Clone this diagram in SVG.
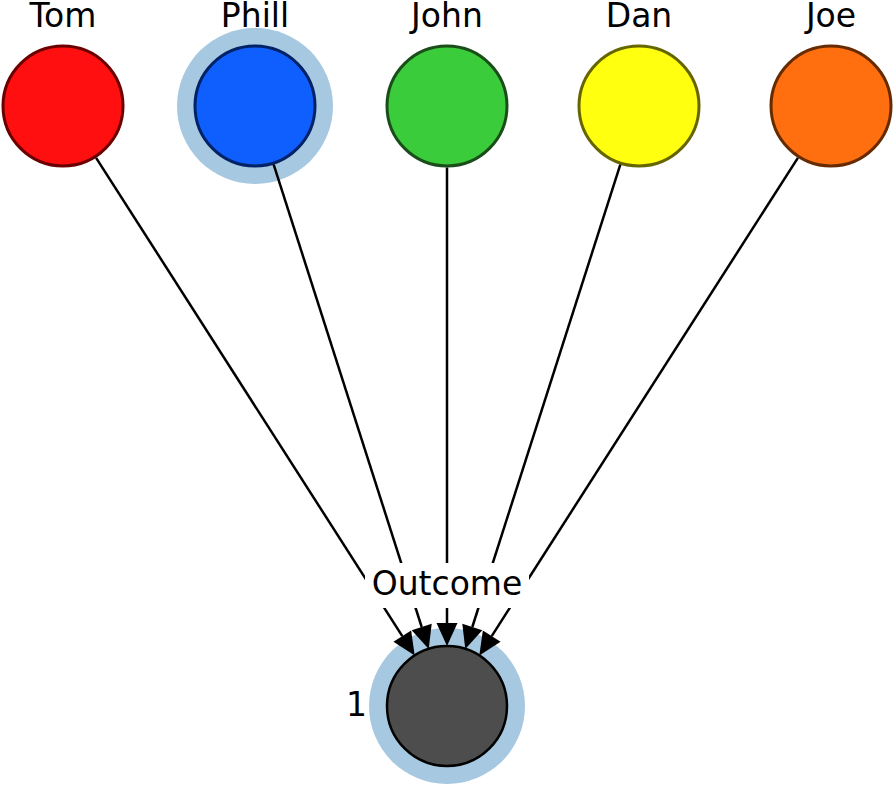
<svg xmlns="http://www.w3.org/2000/svg" width="894" height="785" viewBox="0 0 894 785">
<style>
text{font-family:"DejaVu Sans",sans-serif;font-size:33px;fill:#000}
.n{stroke-width:3}
.halo{fill:#a6c8e0}
.e{stroke:#000;stroke-width:2.5;fill:none}
</style>
<defs>
<marker id="ah" markerUnits="userSpaceOnUse" markerWidth="24" markerHeight="21" refX="0" refY="10.5" orient="auto" overflow="visible">
<path d="M0,0 L23,10.5 L0,21 z" fill="#000" stroke="none"/>
</marker>
</defs>
<rect width="894" height="785" fill="#fff"/>
<g id="tom">
<circle class="n" cx="63" cy="106" r="60" fill="#ff0f0f" stroke="#6b0000"/>
<text x="63" y="27" text-anchor="middle">Tom</text>
</g>
<g id="phill">
<circle class="halo" cx="255" cy="106" r="78"/>
<circle class="n" cx="255" cy="106" r="60" fill="#0f5fff" stroke="#002266"/>
<text x="255" y="27" text-anchor="middle">Phill</text>
</g>
<g id="john">
<circle class="n" cx="447" cy="106" r="60" fill="#3acc3a" stroke="#1a4d1a"/>
<text x="447" y="27" text-anchor="middle">John</text>
</g>
<g id="dan">
<circle class="n" cx="639" cy="106" r="60" fill="#ffff0f" stroke="#666600"/>
<text x="639" y="27" text-anchor="middle">Dan</text>
</g>
<g id="joe">
<circle class="n" cx="831" cy="106" r="60" fill="#ff6f0f" stroke="#662b00"/>
<text x="831" y="27" text-anchor="middle">Joe</text>
</g>
<g id="outcome">
<circle class="halo" cx="447" cy="706" r="78"/>
<circle cx="447" cy="706" r="60" fill="#4d4d4d" stroke="#000" stroke-width="2.5"/>
<text x="367" y="716" text-anchor="end">1</text>
</g>
<g id="connectors">
<line class="e" x1="96.1" y1="157.8" x2="402.3" y2="636.1" marker-end="url(#ah)"/>
<line class="e" x1="273.7" y1="164.6" x2="421.7" y2="627" marker-end="url(#ah)"/>
<line class="e" x1="447" y1="167.5" x2="447" y2="623" marker-end="url(#ah)"/>
<line class="e" x1="620.3" y1="164.6" x2="472.3" y2="627" marker-end="url(#ah)"/>
<line class="e" x1="797.9" y1="157.8" x2="491.7" y2="636.1" marker-end="url(#ah)"/>
<g id="edge-label">
<rect x="365" y="563" width="164" height="45" fill="#fff"/>
<text x="447" y="595" text-anchor="middle">Outcome</text>
</g>
</g>
</svg>
